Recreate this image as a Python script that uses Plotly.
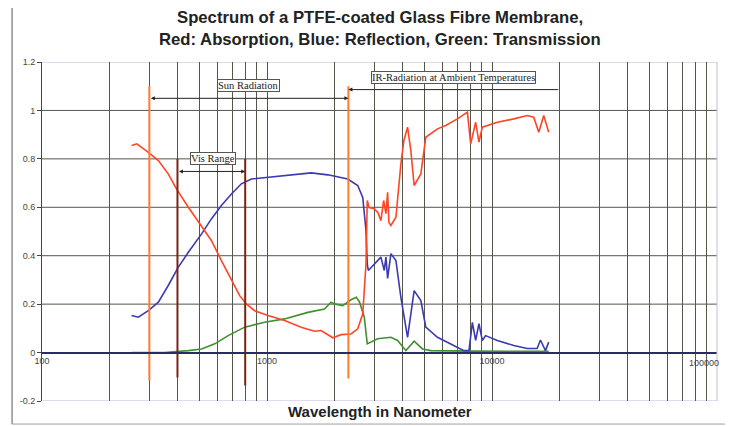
import numpy as np
import plotly.graph_objects as go

# ---------------- data ----------------
abs_wl = [250, 264, 297, 329, 364, 396, 447, 512, 566, 627, 695, 756, 809, 881, 1010,
          1197, 1419, 1626, 1740, 1961, 2134, 2363, 2531, 2664, 2754, 2790, 2840, 2997,
          3112, 3209, 3299, 3378, 3436, 3483, 3554, 3741, 3936, 4059, 4214, 4358, 4508,
          4828, 5078, 5722, 6227, 7019, 7774, 8039, 8458, 8750, 9057, 10557, 12503,
          14336, 15328, 16136, 16982, 17870]
abs_val = [0.855, 0.862, 0.827, 0.793, 0.738, 0.676, 0.600, 0.518, 0.463, 0.380, 0.297,
           0.235, 0.201, 0.173, 0.153, 0.132, 0.105, 0.088, 0.091, 0.061, 0.074, 0.077,
           0.098, 0.160, 0.366, 0.628, 0.599, 0.594, 0.578, 0.545, 0.628, 0.574, 0.662,
           0.537, 0.525, 0.559, 0.779, 0.876, 0.931, 0.834, 0.69, 0.738, 0.889, 0.924,
           0.938, 0.965, 0.993, 0.862, 0.951, 0.869, 0.931, 0.951, 0.965, 0.979, 0.972,
           0.910, 0.979, 0.910]

ref_wl = [250, 268, 297, 329, 364, 403, 447, 512, 566, 627, 695, 769, 852, 1010, 1239,
          1572, 1864, 2285, 2531, 2664, 2754, 2790, 2820, 2997, 3209, 3319, 3378, 3436,
          3554, 3741, 3936, 4214, 4508, 4828, 5078, 5722, 6555, 7508, 7903, 8180, 8458,
          8750, 9057, 9367, 10557, 12503, 14336, 15874, 16417, 17285, 17870]
ref_val = [0.153, 0.146, 0.173, 0.208, 0.277, 0.352, 0.414, 0.490, 0.552, 0.607, 0.655,
           0.697, 0.717, 0.724, 0.731, 0.742, 0.734, 0.717, 0.690, 0.641, 0.504, 0.366,
           0.339, 0.366, 0.394, 0.339, 0.394, 0.306, 0.408, 0.380, 0.228, 0.063, 0.256,
           0.215, 0.105, 0.063, 0.036, 0.008, 0.008, 0.125, 0.050, 0.119, 0.050, 0.070,
           0.050, 0.029, 0.017, 0.017, 0.052, 0.008, 0.043]

tra_wl = [250, 350, 447, 512, 586, 672, 796, 976, 1197, 1520, 1800, 1927, 1993, 2171,
          2363, 2494, 2580, 2706, 2790, 3103, 3554, 3806, 4142, 4508, 4912, 5346, 8000,
          12000, 17870]
tra_val = [0.0, 0.0, 0.008, 0.015, 0.036, 0.070, 0.105, 0.125, 0.139, 0.166, 0.180,
           0.208, 0.201, 0.194, 0.218, 0.228, 0.208, 0.146, 0.036, 0.057, 0.063, 0.050,
           0.008, 0.047, 0.015, 0.008, 0.006, 0.005, 0.005]

sun_bounds = [300, 2300]
vis_bounds = [400, 800]
ir_end = 20000

x_tickvals = [m * 10 ** d for d in (2, 3, 4) for m in range(1, 10)] + [100000]
x_ticktext = [str(v) if v in (100, 1000, 10000) else "" for v in x_tickvals]
y_tickvals = [-0.2, 0, 0.2, 0.4, 0.6, 0.8, 1.0, 1.2]
y_ticktext = ["-0.2", "0", "0.2", "0.4", "0.6", "0.8", "1", "1.2"]

title_lines = ["Spectrum of a PTFE-coated Glass Fibre Membrane,",
               "Red: Absorption, Blue: Reflection, Green: Transmission"]

# ---------------- figure ----------------
RED = "#ff4526"
BLUE = "#3b3bb0"
GREEN = "#3f9030"
ORANGE = "#ff7a32"
BROWN = "#7a2412"
GRID = "#55554a"

fig = go.Figure()

fig.add_trace(go.Scatter(x=tra_wl, y=tra_val, mode="lines",
                         line=dict(color=GREEN, width=1.6), hoverinfo="skip"))
fig.add_trace(go.Scatter(x=ref_wl, y=ref_val, mode="lines",
                         line=dict(color=BLUE, width=1.6), hoverinfo="skip"))
fig.add_trace(go.Scatter(x=abs_wl, y=abs_val, mode="lines",
                         line=dict(color=RED, width=1.6), hoverinfo="skip"))

# vertical marker lines
fig.add_trace(go.Scatter(x=[sun_bounds[0]] * 2, y=[1.10, -0.115], mode="lines",
                         line=dict(color=ORANGE, width=2), hoverinfo="skip"))
fig.add_trace(go.Scatter(x=[sun_bounds[1]] * 2, y=[1.10, -0.107], mode="lines",
                         line=dict(color=ORANGE, width=2), hoverinfo="skip"))
fig.add_trace(go.Scatter(x=[vis_bounds[0]] * 2, y=[0.80, -0.103], mode="lines",
                         line=dict(color=BROWN, width=2), hoverinfo="skip"))
fig.add_trace(go.Scatter(x=[vis_bounds[1]] * 2, y=[0.80, -0.136], mode="lines",
                         line=dict(color=BROWN, width=2), hoverinfo="skip"))

lg = np.log10
label_font = dict(family="Liberation Serif", size=10.5, color="#222")
annotations = [
    # arrows
    dict(x=lg(sun_bounds[1]), y=1.05, ax=lg(sun_bounds[0]), ay=1.05, axref="x", ayref="y",
         xref="x", yref="y", text="", showarrow=True, arrowside="end+start",
         arrowhead=2, arrowsize=0.8, arrowwidth=1, arrowcolor="#222"),
    dict(x=lg(sun_bounds[1]), y=1.086, ax=lg(ir_end), ay=1.086, axref="x", ayref="y",
         xref="x", yref="y", text="", showarrow=True,
         arrowhead=2, arrowsize=0.8, arrowwidth=1, arrowcolor="#222"),
    dict(x=lg(vis_bounds[1]), y=0.748, ax=lg(vis_bounds[0]), ay=0.748, axref="x", ayref="y",
         xref="x", yref="y", text="", showarrow=True, arrowside="end+start",
         arrowhead=2, arrowsize=0.8, arrowwidth=1, arrowcolor="#222"),
    # label boxes
    dict(x=2.919, y=1.105, xref="x", yref="y", text="Sun Radiation", showarrow=False,
         font=label_font, bgcolor="white", bordercolor="#555", borderwidth=1, borderpad=0),
    dict(x=3.828, y=1.134, xref="x", yref="y", text="IR-Radiation at Ambient Temperatures",
         showarrow=False, font=label_font,
         bgcolor="white", bordercolor="#555", borderwidth=1, borderpad=0),
    dict(x=2.762, y=0.80, xref="x", yref="y", text="Vis Range", showarrow=False,
         font=label_font, bgcolor="white", bordercolor="#555", borderwidth=1, borderpad=0),
    # last x tick label (kept inside the page)
    dict(x=5, y=0, xref="x", yref="y", xanchor="right", yanchor="top", xshift=4, yshift=-3,
         text="100000", showarrow=False,
         font=dict(family="Liberation Sans", size=9, color="#444")),
    # title
    dict(x=0.5, y=1.1327, xref="paper", yref="paper", yanchor="middle",
         text="<b>%s</b>" % title_lines[0], showarrow=False,
         font=dict(family="Liberation Sans", size=16.7, color="#222")),
    dict(x=0.5, y=1.0649, xref="paper", yref="paper", yanchor="middle",
         text="<b>%s</b>" % title_lines[1], showarrow=False,
         font=dict(family="Liberation Sans", size=16.7, color="#222")),
    # axis title
    dict(x=0.5, y=-0.0295, xref="paper", yref="paper", yanchor="middle",
         text="<b>Wavelength in Nanometer</b>", showarrow=False,
         font=dict(family="Liberation Sans", size=15, color="#222")),
]

shapes = []
# horizontal grid lines
for v in y_tickvals[2:-1]:
    shapes.append(dict(type="line", xref="paper", yref="y", x0=0, x1=1, y0=v, y1=v,
                       line=dict(color=GRID, width=1), layer="below"))
# light frame at top / bottom / right of the plot area
for v in (y_tickvals[0], y_tickvals[-1]):
    shapes.append(dict(type="line", xref="paper", yref="y", x0=0, x1=1, y0=v, y1=v,
                       line=dict(color="#b8b8dc", width=1), layer="below"))
shapes.append(dict(type="line", xref="paper", yref="paper", x0=1, x1=1, y0=0, y1=1,
                   line=dict(color="#c0c0d8", width=1), layer="above"))
# outer page frame
shapes += [
    dict(type="line", xref="paper", yref="paper", x0=-0.0443, x1=-0.0443, y0=-0.068, y1=1.16,
         line=dict(color="#909090", width=1.5)),
    dict(type="line", xref="paper", yref="paper", x0=-0.0443, x1=1.03, y0=-0.068, y1=-0.068,
         line=dict(color="#a0a0a0", width=1)),
]

# the page adds an 8px body margin, so the figure is 8px smaller than the window
fig.update_layout(
    width=725, height=418,
    margin=dict(l=32, r=16, t=54, b=25),
    paper_bgcolor="white", plot_bgcolor="white",
    showlegend=False,
    annotations=annotations,
    shapes=shapes,
    xaxis=dict(type="log", range=[2, 5], tickmode="array", tickvals=x_tickvals,
               ticktext=x_ticktext, showgrid=True, gridcolor=GRID, gridwidth=1,
               anchor="free", position=0.2 / 1.4, showline=True, linecolor="#2a2a66",
               linewidth=1.5, ticks="", zeroline=False,
               tickfont=dict(family="Liberation Sans", size=9, color="#444")),
    yaxis=dict(range=[-0.2, 1.2], tickmode="array", tickvals=y_tickvals,
               ticktext=y_ticktext, showgrid=False, zeroline=False,
               showline=True, linecolor="#444", linewidth=1, ticks="outside",
               ticklen=4, tickcolor="#444",
               tickfont=dict(family="Liberation Sans", size=9, color="#444")),
)

fig.write_html("out.html")
